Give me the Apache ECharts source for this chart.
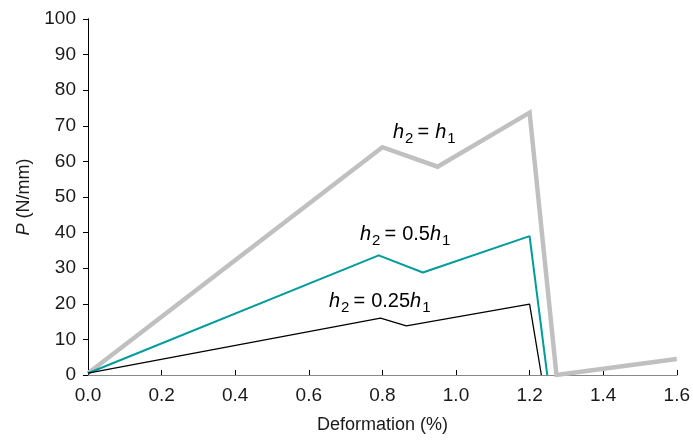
<!DOCTYPE html>
<html>
<head>
<meta charset="utf-8">
<script src="https://cdn.jsdelivr.net/npm/echarts@6/dist/echarts.min.js"></script>
<style>
  html, body { margin: 0; padding: 0; background: #fff; }
  #chart { width: 693px; height: 440px; }
</style>
</head>
<body>
<div id="chart"></div>
<script>
// Load–deformation curves for three thickness ratios
const deformFull = [0.0, 0.8, 0.95, 1.2, 1.273, 1.6];
const loadFull   = [0.5, 64.0, 58.5, 73.7, 0.0, 4.5];

const deformHalf = [0.0, 0.79, 0.91, 1.2, 1.248];
const loadHalf   = [0.5, 33.6, 28.8, 39.0, 0.0];

const deformQuarter = [0.0, 0.795, 0.865, 1.2, 1.232];
const loadQuarter   = [0.5, 16.0, 13.8, 19.9, 0.0];

const xTicks = [0.0, 0.2, 0.4, 0.6, 0.8, 1.0, 1.2, 1.4, 1.6];
const yTicks = [0, 10, 20, 30, 40, 50, 60, 70, 80, 90, 100];

const FONT = '"Liberation Sans", Arial, sans-serif';
const MAIN_SIZE = 20;
const SUB_SIZE = 15;

function pairs(xs, ys) { return xs.map((x, i) => [x, ys[i]]); }

// text width helper for laying out the subscripted labels
const measureCtx = document.createElement('canvas').getContext('2d');
function textWidth(str, size, italic) {
  measureCtx.font = (italic ? 'italic ' : '') + size + 'px ' + FONT;
  return measureCtx.measureText(str).width;
}

// builds "h2 = <coef>h1" with italic h and lowered subscripts
function eqLabel(left, top, coef) {
  const parts = [
    { t: 'h', italic: true, sub: false, gapAfter: 0 },
    { t: '2', italic: false, sub: true, gapAfter: 4 },
    { t: '=', italic: false, sub: false, gapAfter: 6 },
    { t: coef, italic: false, sub: false, gapAfter: 0 },
    { t: 'h', italic: true, sub: false, gapAfter: 0 },
    { t: '1', italic: false, sub: true, gapAfter: 0 }
  ];
  const children = [];
  let x = 0;
  parts.forEach(p => {
    if (!p.t) return;
    const size = p.sub ? SUB_SIZE : MAIN_SIZE;
    children.push({
      type: 'text',
      x: x, y: p.sub ? 9 : 0,
      style: {
        text: p.t, fontFamily: FONT, fontSize: size,
        fontStyle: p.italic ? 'italic' : 'normal',
        fill: '#000', verticalAlign: 'top', align: 'left'
      }
    });
    x += textWidth(p.t, size, p.italic) + (p.italic ? 1 : 0) + p.gapAfter;
  });
  return { type: 'group', x: left, y: top, children: children };
}

const chart = echarts.init(document.getElementById('chart'), null, { renderer: 'canvas' });

chart.setOption({
  animation: false,
  backgroundColor: '#fff',
  grid: { left: 88, right: 16, top: 19, bottom: 65, containLabel: false },
  xAxis: [{
    type: 'value',
    min: xTicks[0], max: xTicks[xTicks.length - 1], interval: 0.2,
    name: 'Deformation (%)',
    nameLocation: 'middle', nameGap: 41,
    nameTextStyle: { fontFamily: FONT, fontSize: 18, color: '#1a1a1a' },
    axisLine: { lineStyle: { color: '#000', width: 1 } },
    axisTick: { inside: true, length: 5, lineStyle: { color: '#000' } },
    axisLabel: { fontFamily: FONT, fontSize: 19, color: '#1a1a1a', margin: 11,
      formatter: v => v.toFixed(1) },
    splitLine: { show: false }
  }, {
    type: 'value', position: 'top',
    min: xTicks[0], max: xTicks[xTicks.length - 1],
    axisLine: { show: true, lineStyle: { color: '#888', width: 1 } },
    axisTick: { show: false }, axisLabel: { show: false }, splitLine: { show: false }
  }],
  yAxis: [{
    type: 'value',
    min: yTicks[0], max: yTicks[yTicks.length - 1], interval: 10,
    name: '{i|P} (N/mm)',
    nameLocation: 'middle', nameGap: 54, nameRotate: 90,
    nameTextStyle: { fontFamily: FONT, fontSize: 18, color: '#1a1a1a',
      rich: { i: { fontFamily: FONT, fontSize: 18, fontStyle: 'italic', color: '#1a1a1a' } } },
    axisLine: { show: true, lineStyle: { color: '#000', width: 1 } },
    axisTick: { show: true, inside: false, length: 5, lineStyle: { color: '#000' } },
    axisLabel: { fontFamily: FONT, fontSize: 19, color: '#1a1a1a', margin: 12 },
    splitLine: { show: false }
  }, {
    type: 'value', position: 'right',
    min: yTicks[0], max: yTicks[yTicks.length - 1],
    axisLine: { show: true, lineStyle: { color: '#000', width: 1 } },
    axisTick: { show: false }, axisLabel: { show: false }, splitLine: { show: false }
  }],
  series: [{
    name: 'h2 = h1', type: 'line', data: pairs(deformFull, loadFull),
    symbol: 'none', lineStyle: { color: '#c0c0c0', width: 4.5, join: 'miter' }, z: 2
  }, {
    name: 'h2 = 0.5h1', type: 'line', data: pairs(deformHalf, loadHalf),
    symbol: 'none', lineStyle: { color: '#009c9c', width: 2 }, z: 3
  }, {
    name: 'h2 = 0.25h1', type: 'line', data: pairs(deformQuarter, loadQuarter),
    symbol: 'none', lineStyle: { color: '#000', width: 1.3 }, z: 4
  }],
  graphic: [
    eqLabel(393, 122, ''),
    eqLabel(360, 224, '0.5'),
    eqLabel(329, 291, '0.25')
  ]
});
</script>
</body>
</html>
